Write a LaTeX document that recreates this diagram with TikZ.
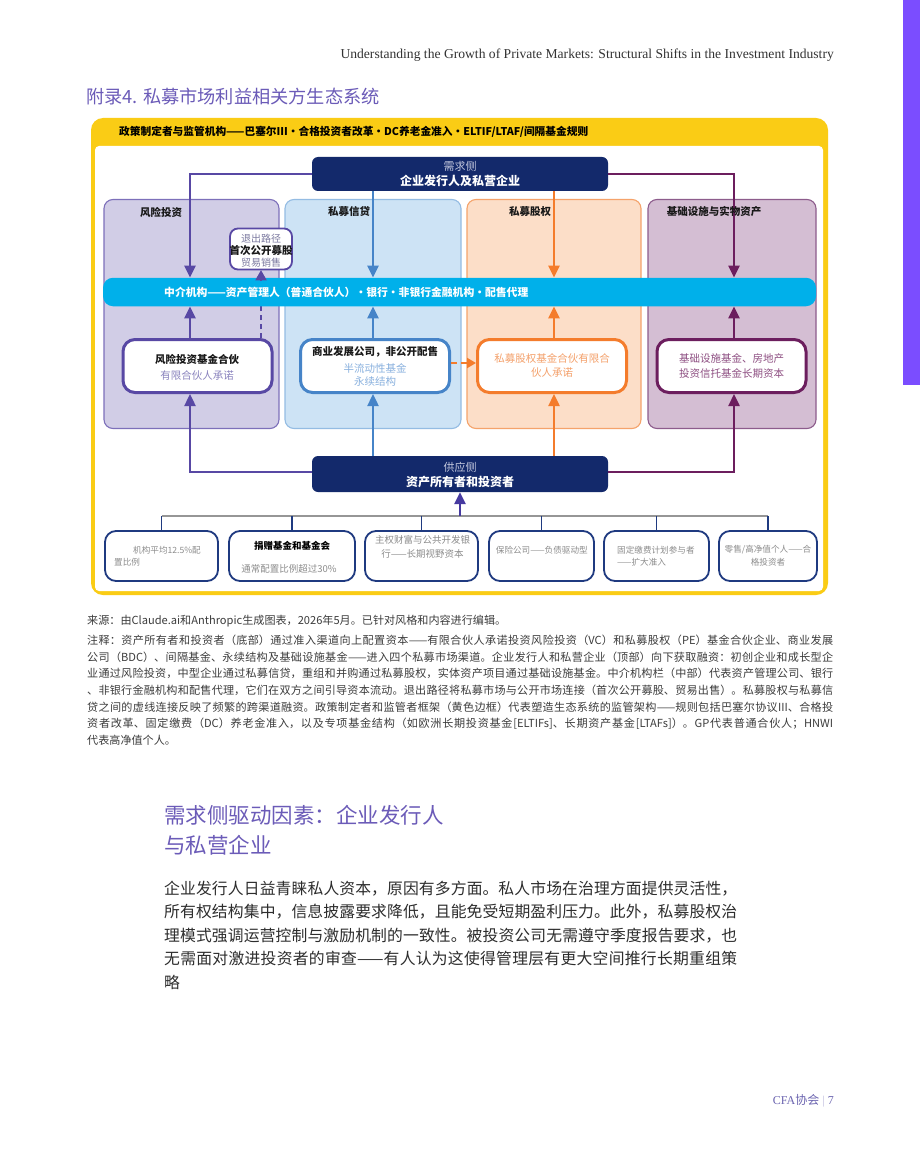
\documentclass[tikz,border=0pt]{standalone}
\usepackage{fontspec}
\setmainfont{Liberation Serif}
\newfontfamily\cjk{Noto Sans CJK SC}
\usetikzlibrary{arrows.meta}
\XeTeXlinebreaklocale "zh"
\XeTeXlinebreakskip=0pt plus 1.5pt
\newcommand\fs[2]{\fontsize{#1pt}{#2pt}\selectfont}
\definecolor{navy}{RGB}{19,41,107}
\definecolor{ylw}{RGB}{250,204,21}
\definecolor{vcline}{RGB}{88,72,164}
\definecolor{vcfill}{RGB}{209,205,230}
\definecolor{vcedge}{RGB}{125,112,186}
\definecolor{pcline}{RGB}{70,132,200}
\definecolor{pcfill}{RGB}{205,227,245}
\definecolor{pcedge}{RGB}{148,188,227}
\definecolor{peline}{RGB}{244,124,44}
\definecolor{pefill}{RGB}{252,222,200}
\definecolor{peedge}{RGB}{245,163,107}
\definecolor{inline}{RGB}{108,30,94}
\definecolor{infill}{RGB}{212,190,211}
\definecolor{inedge}{RGB}{141,92,140}
\definecolor{cyanbar}{RGB}{0,176,234}
\definecolor{violetbar}{RGB}{123,77,255}
\definecolor{titlepurple}{RGB}{107,91,184}
\definecolor{greytxt}{RGB}{140,140,140}
\definecolor{notetxt}{RGB}{60,60,60}
\definecolor{bodytxt}{RGB}{45,45,45}
\definecolor{boxedge}{RGB}{31,58,128}
\definecolor{greyline}{RGB}{150,150,150}
\definecolor{upind}{RGB}{70,58,160}
\definecolor{lightsub}{RGB}{195,200,222}
\definecolor{vcsub}{RGB}{138,131,190}
\definecolor{pcsub}{RGB}{136,176,222}
\definecolor{petxt}{RGB}{244,160,106}
\definecolor{intxt}{RGB}{142,79,130}
\definecolor{exitsub}{RGB}{124,122,160}
\definecolor{footpurple}{RGB}{107,100,176}
\begin{document}
\begin{tikzpicture}[x=1pt,y=-1pt,
  conn/.style={line width=2.4, -{Triangle[length=12pt,width=11pt]}},
  panel/.style={rounded corners=9, line width=1.1, minimum height=229, inner sep=0},
  fund/.style={draw, fill=white, rounded corners=12, line width=3, minimum width=149, minimum height=53, inner sep=0},
  navybox/.style={fill=navy, rounded corners=6, inner sep=0},
  botbox/.style={draw=boxedge, fill=white, rounded corners=11, line width=1.8, minimum height=50, inner sep=0},
  hdr/.style={inner sep=0, font=\cjk\bfseries\fs{10.5}{11}, text=black!90},
  lbl/.style={inner sep=0, font=\cjk\fs{10.5}{11}},
  blbl/.style={inner sep=0, font=\cjk\bfseries\fs{10.5}{11}, text=black!90},
  small/.style={inner sep=0, font=\cjk\fs{8.6}{9}, text=greytxt},
  mid/.style={inner sep=0, font=\cjk\fs{9.5}{10}, text=greytxt},
  exitdash/.style={vcline, line width=1.8, dash pattern=on 5pt off 4pt, -{Triangle[length=10pt,width=11pt]}}
]
\useasboundingbox (0,0) rectangle (920,1150);
\fill[white] (0,0) rectangle (920,1150);
\fill[violetbar] (903,0) rectangle (920,385);

\node[anchor=east, inner sep=0, font=\fs{13.6}{14}, text=black!80] (runhead) at (834,55) {Understanding the Growth of Private Markets: Structural Shifts in the Investment Industry};
\node[anchor=west, inner sep=0, text=titlepurple, font=\cjk\fs{18.2}{18}] (title) at (86,97) {附录4. 私募市场利益相关方生态系统};

% frame
\fill[ylw, rounded corners=12] (91,118) rectangle (828,595);
\fill[white, rounded corners=4] (95,146) rectangle (823,591);
\node[anchor=west, inner sep=0, font=\cjk\bfseries\fs{10.7}{11}, text=black] (policy) at (119,132) {政策制定者与监管机构——巴塞尔III・合格投资者改革・DC养老金准入・ELTIF/LTAF/间隔基金规则};

% panels
\node[panel, fill=vcfill, draw=vcedge, minimum width=175] (pvc) at (191.5,314) {};
\node[panel, fill=pcfill, draw=pcedge, minimum width=176] (ppc) at (373,314) {};
\node[panel, fill=pefill, draw=peedge, minimum width=174] (ppe) at (554,314) {};
\node[panel, fill=infill, draw=inedge, minimum width=168] (pin) at (732,314) {};

% demand box
\node[navybox, minimum width=296, minimum height=34] (demand) at (460,174) {};
\node[lbl, text=lightsub, font=\cjk\fs{11}{11}] (demandsub) at (460,166) {需求侧};
\node[inner sep=0, text=white, font=\cjk\bfseries\fs{12}{12}] (demandmain) at (460,180.5) {企业发行人及私营企业};

\coordinate (cvc) at (190,0);
\coordinate (cpc) at (373,0);
\coordinate (cpe) at (554,0);
\coordinate (cin) at (734,0);

\node[fund, draw=vcline] (vcfund) at (197.5,366) {};
\node[fund, draw=pcline] (pcfund) at (375,366) {};
\node[fund, draw=peline] (pefund) at (552,366) {};
\node[fund, draw=inline] (infund) at (731.5,366) {};

% exit box
\node[draw=vcline, fill=white, rounded corners=8, line width=1.8, minimum width=62, minimum height=41, inner sep=0] (exitbox) at (261,249) {};
\draw[exitdash] (vcfund.north -| exitbox.south) -- (exitbox.south);

\node[fill=cyanbar, rounded corners=10, minimum width=713, minimum height=28.5, inner sep=0] (inter) at (459.5,292) {};
\node[anchor=west, inner sep=0, font=\cjk\bfseries\fs{10.8}{11}, text=white] (intertext) at (164,292) {中介机构——资产管理人（普通合伙人）・银行・非银行金融机构・配售代理};
\draw[exitdash] ([yshift=-11pt]exitbox.south) -- (exitbox.south);

% demand connectors
\draw[conn, vcline] (demand.west) -| (cvc |- inter.north);
\draw[conn, pcline] (demand.south -| cpc) -- (cpc |- inter.north);
\draw[conn, peline] (demand.south -| cpe) -- (cpe |- inter.north);
\draw[conn, inline] (demand.east) -| (cin |- inter.north);

% panel headers
\node[hdr] (hvc) at (161,212) {风险投资};
\node[hdr] (hpc) at (349,212) {私募信贷};
\node[hdr] (hpe) at (530,212) {私募股权};
\node[hdr] (hin) at (714,212) {基础设施与实物资产};

% exit texts
\node[lbl, font=\cjk\fs{10}{10}, text=exitsub] (exit1) at (261,239) {退出路径};
\node[blbl, font=\cjk\bfseries\fs{10.5}{11}] (exit2) at (261,251) {首次公开募股};
\node[lbl, font=\cjk\fs{10}{10}, text=exitsub] (exit3) at (261,263) {贸易销售};

% fund texts
\node[blbl] (vct1) at (197,359) {风险投资基金合伙};
\node[lbl, text=vcsub] (vct2) at (197,375) {有限合伙人承诺};
\node[blbl] (pct1) at (375,352) {商业发展公司，非公开配售};
\node[lbl, text=pcsub] (pct2) at (375,368) {半流动性基金};
\node[lbl, text=pcsub] (pct3) at (375,382) {永续结构};
\node[lbl, text=petxt] (pet1) at (552,358) {私募股权基金合伙有限合};
\node[lbl, text=petxt] (pet2) at (552,373) {伙人承诺};
\node[lbl, text=intxt] (int1) at (731.5,358) {基础设施基金、房地产};
\node[lbl, text=intxt] (int2) at (731.5,373) {投资信托基金长期资本};

% fund -> bar
\draw[conn, vcline] (cvc |- vcfund.north) -- (cvc |- inter.south);
\draw[conn, pcline] (cpc |- pcfund.north) -- (cpc |- inter.south);
\draw[conn, peline] (cpe |- pefund.north) -- (cpe |- inter.south);
\draw[conn, inline] (cin |- infund.north) -- (cin |- inter.south);

% cross-channel dashed
\draw[peline, line width=2, dash pattern=on 6pt off 4pt, -{Triangle[length=9pt,width=10pt]}] ([yshift=3pt]pcfund.east) -- ([yshift=3pt]pefund.west);

% supply box
\node[navybox, minimum width=296, minimum height=36] (supply) at (460,474) {};
\node[lbl, text=lightsub, font=\cjk\fs{11}{11}] (supplysub) at (460,467) {供应侧};
\node[inner sep=0, text=white, font=\cjk\bfseries\fs{12}{12}] (supplymain) at (460,481.5) {资产所有者和投资者};

\draw[conn, vcline] ([yshift=2pt]supply.west) -| (cvc |- vcfund.south);
\draw[conn, pcline] (supply.north -| cpc) -- (cpc |- pcfund.south);
\draw[conn, peline] (supply.north -| cpe) -- (cpe |- pefund.south);
\draw[conn, inline] ([yshift=2pt]supply.east) -| (cin |- infund.south);

% bottom boxes
\node[botbox, minimum width=113] (b1) at (161.5,556) {};
\node[botbox, minimum width=126] (b2) at (292,556) {};
\node[botbox, minimum width=113] (b3) at (421.5,556) {};
\node[botbox, minimum width=105] (b4) at (541.5,556) {};
\node[botbox, minimum width=105] (b5) at (656.5,556) {};
\node[botbox, minimum width=98] (b6) at (768,556) {};

\coordinate (bus) at (0,516);
\draw[greyline, line width=1.6] (b1.north |- bus) -- (b6.north |- bus);
\foreach \b in {b1,b2,b3,b4,b5,b6}{\draw[boxedge, line width=1.6] (\b.north |- bus) -- (\b.north);}
\draw[conn, upind] (supply.south |- bus) -- (supply.south);

\node[small, anchor=west] (b1t1) at (133,550) {机构平均12.5\%配};
\node[small, anchor=west] (b1t2) at (114,562) {置比例};
\node[inner sep=0, font=\cjk\bfseries\fs{9.5}{10}, text=black] (b2t1) at (292,546) {捐赠基金和基金会};
\node[mid] (b2t2) at (289,568.5) {通常配置比例超过30\%};
\node[mid] (b3t1) at (422.5,540) {主权财富与公共开发银};
\node[mid] (b3t2) at (422.5,554.3) {行——长期视野资本};
\node[small] (b4t1) at (541.8,550) {保险公司——负债驱动型};
\node[small, anchor=west] (b5t1) at (617,550) {固定缴费计划参与者};
\node[small, anchor=west] (b5t2) at (617,562.7) {——扩大准入};
\node[small] (b6t1) at (768,550) {零售/高净值个人——合};
\node[small] (b6t2) at (768,562.3) {格投资者};

% notes
\node[anchor=base west, inner sep=0, text=notetxt, font=\cjk\fs{11.1}{16.7}] (source) at (87,624.3) {来源：由Claude.ai和Anthropic生成图表，2026年5月。已针对风格和内容进行编辑。};
\node[anchor=base west, inner sep=0, text=notetxt, font=\cjk\fs{11.1}{16.7}] (notes) at (87,644.3) {\parbox[t]{746pt}{注释：资产所有者和投资者（底部）通过准入渠道向上配置资本——有限合伙人承诺投资风险投资（VC）和私募股权（PE）基金合伙企业、商业发展\linebreak
公司（BDC）、间隔基金、永续结构及基础设施基金——进入四个私募市场渠道。企业发行人和私营企业（顶部）向下获取融资：初创企业和成长型企\linebreak
业通过风险投资，中型企业通过私募信贷，重组和并购通过私募股权，实体资产项目通过基础设施基金。中介机构栏（中部）代表资产管理公司、银行\linebreak
、非银行金融机构和配售代理，它们在双方之间引导资本流动。退出路径将私募市场与公开市场连接（首次公开募股、贸易出售）。私募股权与私募信\linebreak
贷之间的虚线连接反映了频繁的跨渠道融资。政策制定者和监管者框架（黄色边框）代表塑造生态系统的监管架构——规则包括巴塞尔协议III、合格投\linebreak
资者改革、固定缴费（DC）养老金准入，以及专项基金结构（如欧洲长期投资基金[ELTIFs]、长期资产基金[LTAFs]）。GP代表普通合伙人；HNWI\linebreak
代表高净值个人。}};

% body
\node[anchor=base west, inner sep=0, text=titlepurple, font=\cjk\fs{21.5}{30}] (heading) at (164,823) {\parbox[t]{400pt}{需求侧驱动因素：企业发行人\\与私营企业}};
\node[anchor=base west, inner sep=0, text=bodytxt, font=\cjk\fs{15.8}{23.5}] (body) at (164,894) {\parbox[t]{573pt}{企业发行人日益青睐私人资本，原因有多方面。私人市场在治理方面提供灵活性，\linebreak
所有权结构集中，信息披露要求降低，且能免受短期盈利压力。此外，私募股权治\linebreak
理模式强调运营控制与激励机制的一致性。被投资公司无需遵守季度报告要求，也\linebreak
无需面对激进投资者的审查——有人认为这使得管理层有更大空间推行长期重组策\linebreak
略}};

% footer
\node[anchor=east, inner sep=0, text=footpurple, font=\fs{12}{12}] (footer) at (834,1101) {CFA{\cjk 协会} {\color{footpurple!45}|} 7};
\end{tikzpicture}
\end{document}
